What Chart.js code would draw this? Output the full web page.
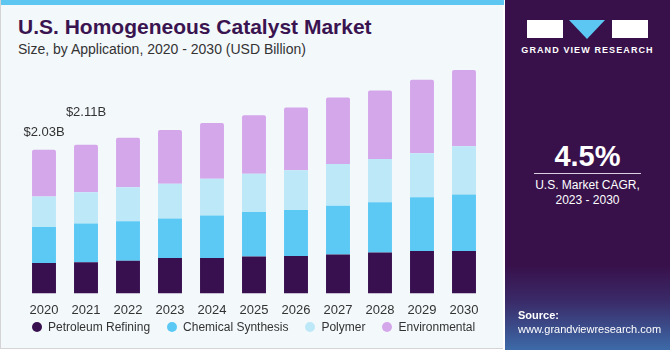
<!DOCTYPE html>
<html>
<head>
<meta charset="utf-8">
<script src="https://cdn.jsdelivr.net/npm/chart.js@4"></script>
<style>
  body { margin: 0; background: #fff; font-family: "Liberation Sans", Arial, sans-serif; }
  #wrap { position: relative; width: 670px; height: 350px; overflow: hidden; }
  #left { position: absolute; left: 0; top: 0; width: 503px; height: 349px; background: #F3F8FB; border-left: 1px solid #d4d4d4; border-bottom: 1px solid #d4d4d4; box-sizing: border-box; }
  #strip { position: absolute; left: 0; top: 0; width: 503px; height: 5px; background: #5DC6F1; }
  #titolo { position: absolute; left: 17px; top: 15px; font-size: 21px; font-weight: bold; color: #3A1450; white-space: nowrap; }
  #sottotitolo { position: absolute; left: 17px; top: 41px; font-size: 14px; color: #333; white-space: nowrap; }
  #grafico-box { position: absolute; left: 0; top: 60px; width: 500px; height: 264px; }
  #legenda { position: absolute; left: 31px; top: 319px; display: flex; font-size: 12px; color: #333; white-space: nowrap; }
  #legenda .voce { display: flex; align-items: center; margin-right: 17px; line-height: 16px; }
  #legenda .pallino { width: 10px; height: 10px; border-radius: 50%; margin-right: 6px; }
  #right { position: absolute; left: 505px; top: 0; width: 165px; height: 350px;
    background: linear-gradient(to bottom, #38114B 0%, #38114B 76%, #3a2a68 86%, #3d6aa8 100%); }
  .box { position: absolute; background: #fff; }
  #tri { position: absolute; left: 64px; top: 20px; width: 0; height: 0;
    border-left: 18px solid transparent; border-right: 18px solid transparent; border-top: 19px solid #5CC7F3; }
  #marchio { position: absolute; left: 0; width: 165px; top: 45px; text-align: center; color: #fff; font-size: 9px; font-weight: bold; letter-spacing: 1.1px; }
  #cagr { position: absolute; left: 0; width: 165px; top: 140px; text-align: center; color: #fff; font-size: 29px; font-weight: bold; }
  #linea { position: absolute; left: 29px; width: 107px; top: 173px; height: 1px; background: #d8cfe0; }
  #cagr-testo { position: absolute; left: 0; width: 165px; top: 178px; text-align: center; color: #fff; font-size: 12px; line-height: 15px; }
  #fonte { position: absolute; left: 13px; top: 308px; color: #fff; font-size: 11px; line-height: 14px; }
</style>
</head>
<body>
<div id="wrap">
  <div id="left">
    <div id="strip"></div>
    <div id="titolo">U.S. Homogeneous Catalyst Market</div>
    <div id="sottotitolo">Size, by Application, 2020 - 2030 (USD Billion)</div>
    <div id="grafico-box"><canvas id="grafico" width="500" height="264"></canvas></div>
    <div id="legenda"></div>
  </div>
  <div id="right">
    <div class="box" style="left:22px;top:20px;width:36px;height:18px;"></div>
    <div id="tri"></div>
    <div class="box" style="left:107px;top:20px;width:36px;height:18px;"></div>
    <div id="marchio">GRAND VIEW RESEARCH</div>
    <div id="cagr">4.5%</div>
    <div id="linea"></div>
    <div id="cagr-testo">U.S. Market CAGR,<br>2023 - 2030</div>
    <div id="fonte"><b>Source:</b><br>www.grandviewresearch.com</div>
  </div>
</div>
<script>
const anni = ["2020", "2021", "2022", "2023", "2024", "2025", "2026", "2027", "2028", "2029", "2030"];
const petroleum = [0.43, 0.44, 0.46, 0.50, 0.50, 0.52, 0.53, 0.55, 0.58, 0.60, 0.60];
const chemical = [0.51, 0.55, 0.56, 0.56, 0.60, 0.63, 0.65, 0.69, 0.71, 0.76, 0.80];
const polymer = [0.43, 0.44, 0.48, 0.49, 0.52, 0.54, 0.56, 0.59, 0.61, 0.62, 0.68];
const environmental = [0.66, 0.67, 0.70, 0.76, 0.79, 0.83, 0.89, 0.94, 0.97, 1.04, 1.08];
const etichette = ["$2.03B", "$2.11B"];

// etichette sopra le prime due colonne
const pluginEtichette = {
  id: "etichette",
  afterDatasetsDraw(chart) {
    const ctx = chart.ctx;
    const meta = chart.getDatasetMeta(chart.data.datasets.length - 1);
    const alzo = [17, 32];
    ctx.save();
    ctx.font = "13px 'Liberation Sans', Arial, sans-serif";
    ctx.fillStyle = "#333";
    ctx.textAlign = "center";
    ctx.textBaseline = "middle";
    etichette.forEach(function (t, i) {
      const bar = meta.data[i];
      ctx.fillText(t, bar.x, bar.y - alzo[i]);
    });
    ctx.restore();
  }
};

const ctx = document.getElementById("grafico").getContext("2d");
const grafico = new Chart(ctx, {
  type: "bar",
  data: {
    labels: anni,
    datasets: [
      { label: "Petroleum Refining", data: petroleum, backgroundColor: "#381050" },
      { label: "Chemical Synthesis", data: chemical, backgroundColor: "#5CC9F5" },
      { label: "Polymer", data: polymer, backgroundColor: "#BDE8F8" },
      { label: "Environmental", data: environmental, backgroundColor: "#D4A7EB",
        borderRadius: { topLeft: 2, topRight: 2 }, borderSkipped: "bottom" }
    ]
  },
  options: {
    responsive: false,
    animation: false,
    categoryPercentage: 1,
    barPercentage: 0.57,
    layout: { padding: { left: 22, right: 16, top: 0, bottom: 5 } },
    scales: {
      x: {
        stacked: true,
        grid: { display: false },
        border: { display: false },
        ticks: { color: "#333", padding: 1, font: { size: 13, family: "'Liberation Sans', Arial, sans-serif" } }
      },
      y: { stacked: true, display: false, min: 0, max: 3.3 }
    },
    plugins: {
      tooltip: { enabled: false },
      legend: { display: false }
    }
  },
  plugins: [pluginEtichette]
});

// legenda in HTML, presa dai dataset
const legenda = document.getElementById("legenda");
grafico.data.datasets.forEach(function (d) {
  const voce = document.createElement("div");
  voce.className = "voce";
  voce.innerHTML = '<span class="pallino" style="background:' + d.backgroundColor + '"></span>' + d.label;
  legenda.appendChild(voce);
});
</script>
</body>
</html>
